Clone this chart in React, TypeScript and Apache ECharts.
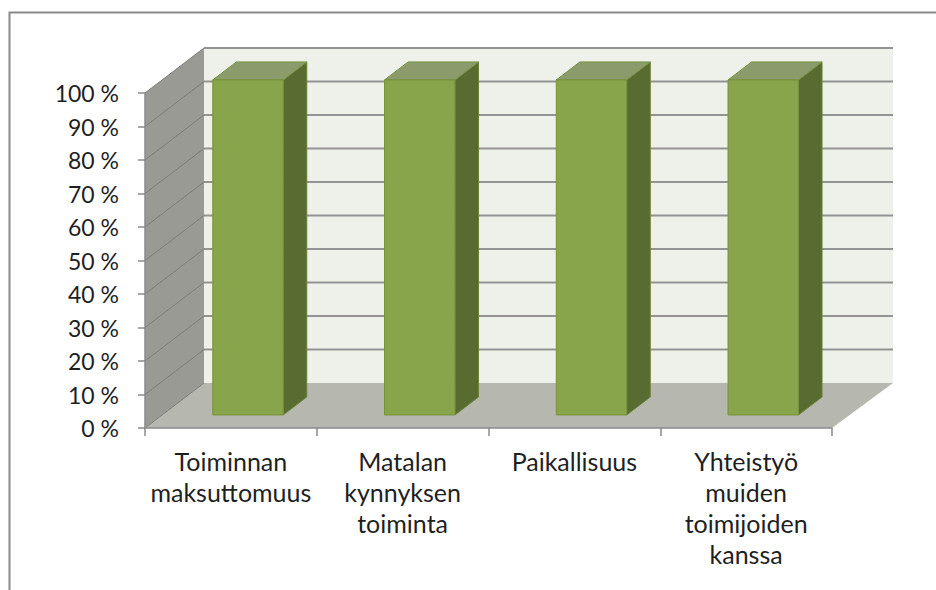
import React, { useEffect, useRef } from "react";
import * as echarts from "echarts";

// ---- data ----
const categories: string[] = [
  "Toiminnan\nmaksuttomuus",
  "Matalan\nkynnyksen\ntoiminta",
  "Paikallisuus",
  "Yhteistyö\nmuiden\ntoimijoiden\nkanssa",
];
const values: number[] = [100, 100, 100, 100];
const gridValues: number[] = [0, 10, 20, 30, 40, 50, 60, 70, 80, 90, 100];

// ---- style constants ----
const DX = 59; // depth offset of the 3D box
const DY = -45;
const F0 = 0.29; // bar front depth fraction
const F1 = 0.69; // bar back depth fraction
const BAR_RATIO = 0.41;
const FONT = "Lato";

export default function App() {
  const ref = useRef<HTMLDivElement>(null);
  useEffect(() => {
    document.body.style.margin = "0";
    if (!ref.current) return;
    const chart = echarts.init(ref.current, null, { renderer: "svg" });

    const wallsRender = (params: any, api: any) => {
      const cs = params.coordSys;
      const L = cs.x, R = cs.x + cs.width, T = cs.y, B = cs.y + cs.height;
      const children: any[] = [];
      children.push({
        type: "rect",
        shape: { x: L + DX, y: T + DY, width: R - L + 2, height: B - T },
        style: { fill: "#eef1ea" },
      });
      children.push({
        type: "polygon",
        shape: { points: [[L, T], [L + DX, T + DY], [L + DX, B + DY], [L, B]] },
        style: { fill: "#989a93" },
      });
      children.push({
        type: "polygon",
        shape: { points: [[L, B], [L + DX, B + DY], [R + DX + 2, B + DY], [R, B]] },
        style: { fill: "#b6b8b0" },
      });
      gridValues.forEach((v) => {
        const y = api.coord([0, v])[1];
        if (v > 0) {
          children.push({
            type: "line",
            shape: { x1: L + DX, y1: y + DY, x2: R + DX + 2, y2: y + DY },
            style: { stroke: "#939393", lineWidth: 2 },
          });
        }
        children.push({
          type: "line",
          shape: { x1: L, y1: y, x2: L + DX, y2: y + DY },
          style: { stroke: "#7c7d79", lineWidth: 1 },
        });
      });
      return { type: "group", children };
    };

    const barRender = (params: any, api: any) => {
      const idx = api.value(0);
      const v = api.value(1);
      const top = api.coord([idx, v]);
      const bot = api.coord([idx, 0]);
      const bw = api.size([1, 0])[0] * BAR_RATIO;
      const xl = top[0] - bw / 2;
      const xr = top[0] + bw / 2;
      const ax = F0 * DX, ay = F0 * DY, bx = F1 * DX, by = F1 * DY;
      const edge = "#75933a";
      return {
        type: "group",
        children: [
          {
            type: "polygon",
            shape: {
              points: [
                [xr + ax, top[1] + ay],
                [xr + bx, top[1] + by],
                [xr + bx, bot[1] + by],
                [xr + ax, bot[1] + ay],
              ],
            },
            style: { fill: "#586b31", stroke: "#6a8537", lineWidth: 1 },
          },
          {
            type: "polygon",
            shape: {
              points: [
                [xl + ax, top[1] + ay],
                [xl + bx, top[1] + by],
                [xr + bx, top[1] + by],
                [xr + ax, top[1] + ay],
              ],
            },
            style: { fill: "#8c9b6c", stroke: edge, lineWidth: 1 },
          },
          {
            type: "rect",
            shape: { x: xl + ax, y: top[1] + ay, width: bw, height: bot[1] - top[1] },
            style: { fill: "#89a54c", stroke: edge, lineWidth: 1 },
          },
        ],
      };
    };

    chart.setOption({
      animation: false,
      backgroundColor: "#ffffff",
      textStyle: { fontFamily: FONT },
      graphic: [
        {
          type: "rect",
          shape: { x: 9.5, y: 12.5, width: 3000, height: 3000 },
          style: { fill: "none", stroke: "#8a8a8a", lineWidth: 2 },
          silent: true,
          z: -10,
        },
      ],
      grid: {
        left: 145,
        right: 104,
        top: 93,
        bottom: 162,
        containLabel: false,
        outerBoundsMode: "none",
      },
      xAxis: {
        type: "category",
        data: categories,
        z: 10,
        axisLine: { show: true, lineStyle: { color: "#8a8a8a", width: 1.5 } },
        axisTick: { show: true, length: 8, lineStyle: { color: "#8a8a8a", width: 1.5 } },
        axisLabel: {
          interval: 0,
          margin: 17,
          color: "#1f1f1f",
          fontSize: 25,
          fontFamily: FONT,
          lineHeight: 31,
          align: "center",
        },
        splitLine: { show: false },
      },
      yAxis: {
        type: "value",
        min: 0,
        max: 100,
        interval: 10,
        z: 10,
        axisLine: { show: true, lineStyle: { color: "#8a8a8a", width: 1.5 } },
        axisTick: { show: true, length: 7, lineStyle: { color: "#8a8a8a", width: 1.5 } },
        axisLabel: {
          margin: 26,
          color: "#1f1f1f",
          fontSize: 23,
          fontFamily: FONT,
          formatter: (v: number) => `${v} %`,
        },
        splitLine: { show: false },
      },
      series: [
        {
          type: "custom",
          name: "walls",
          z: 1,
          silent: true,
          clip: false,
          renderItem: wallsRender,
          data: [[0, 0]],
          encode: { x: 0, y: 1 },
        },
        {
          type: "custom",
          name: "bars",
          z: 3,
          clip: false,
          renderItem: barRender,
          data: values.map((v, i) => [i, v]),
          encode: { x: 0, y: 1 },
        },
      ],
    });
    return () => chart.dispose();
  }, []);
  return <div ref={ref} style={{ width: 936, height: 590 }} />;
}
